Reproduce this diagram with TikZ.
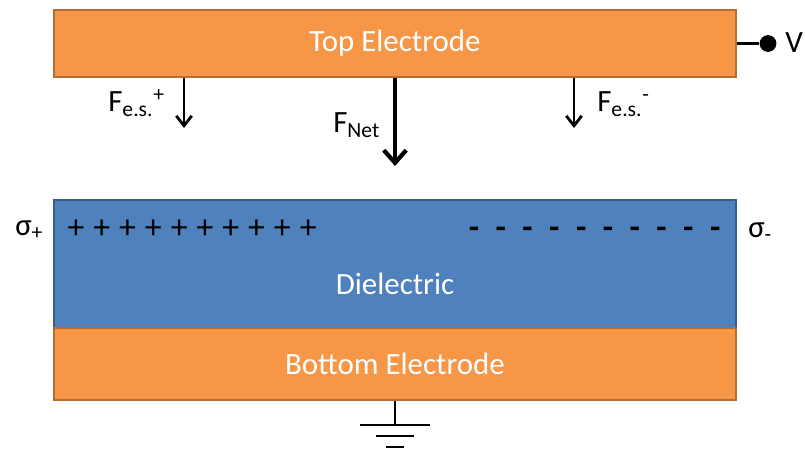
\documentclass[tikz,border=0pt]{standalone}
\usepackage{fontspec}
\setmainfont{Carlito}
\usepackage{xcolor}
\usetikzlibrary{arrows.meta}
\definecolor{elorange}{HTML}{F79646}
\definecolor{elborder}{HTML}{B66D31}
\definecolor{diblue}{HTML}{4F81BD}
\definecolor{diborder}{HTML}{385D8A}
\tikzset{layer/.style={draw,line width=1.5pt,minimum width=17.05cm,inner sep=0pt,text=white,font=\fontsize{22}{26}\selectfont},
  electrode/.style={layer,fill=elorange,draw=elborder},
  force/.style={line width=2pt,-{Straight Barb[length=7pt,width=11pt,line width=2pt]}},
  bigforce/.style={line width=3pt,-{Straight Barb[length=9pt,width=16pt,line width=3pt]}},
  wire/.style={line width=2.1pt},
  lbl/.style={inner sep=0pt,anchor=base west,font=\fontsize{22}{26}\selectfont}}

\begin{document}
\begin{tikzpicture}[x=0.025cm,y=-0.025cm]
\useasboundingbox (0,0) rectangle (805,453);
% create the layers
\node[electrode,minimum height=1.675cm] (top) at (395,43.5) {Top Electrode};
\node[layer,fill=diblue,draw=diborder,minimum height=3.2cm] (diel) at (395,264) {};
\node[text=white,font=\fontsize{22}{26}\selectfont] (dtext) at (395,284) {Dielectric};
\node[electrode,minimum height=1.8cm] (bottom) at (395,364) {Bottom Electrode};
% voltage contact
\node[circle,fill,minimum size=0.42cm,inner sep=0pt] (vdot) at (768,43.5) {};
\draw[wire] (top.east) -- (vdot);
\node[lbl] (v) at (785,53) {V};
% forces
\coordinate (fplus) at (184,128);
\coordinate (fnet) at (395,166);
\coordinate (fminus) at (574,128);
\draw[force] (top.south -| fplus) -- (fplus);
\draw[bigforce] (top.south -| fnet) -- (fnet);
\draw[force] (top.south -| fminus) -- (fminus);
\node[lbl] (lplus) at (108,112) {F\textsubscript{e.s.}\textsuperscript{+}};
\node[lbl] (lnet) at (333,133) {F\textsubscript{Net}};
\node[lbl] (lminus) at (597,112) {F\textsubscript{e.s.}\textsuperscript{-}};
% surface charges
\foreach \i in {0,...,9}
  \node[font=\fontsize{24}{28}\selectfont,inner sep=0pt] (p\i) at (76+\i*25.8,229) {+};
\foreach \i in {0,...,9}
  \node[font=\bfseries\fontsize{24}{28}\selectfont,inner sep=0pt] (m\i) at (474+\i*26.8,233) {-};
\node[lbl] (splus) at (15,235) {σ\textsubscript{+}};
\node[lbl] (sminus) at (748,237) {σ\textsubscript{-}};
% ground
\coordinate (gnd) at (395,425);
\draw[wire] (bottom.south) -- (gnd);
\draw[wire] (360,425) -- (430,425);
\draw[wire] (376,436) -- (414,436);
\draw[wire] (386,447) -- (404,447);
\end{tikzpicture}
\end{document}
